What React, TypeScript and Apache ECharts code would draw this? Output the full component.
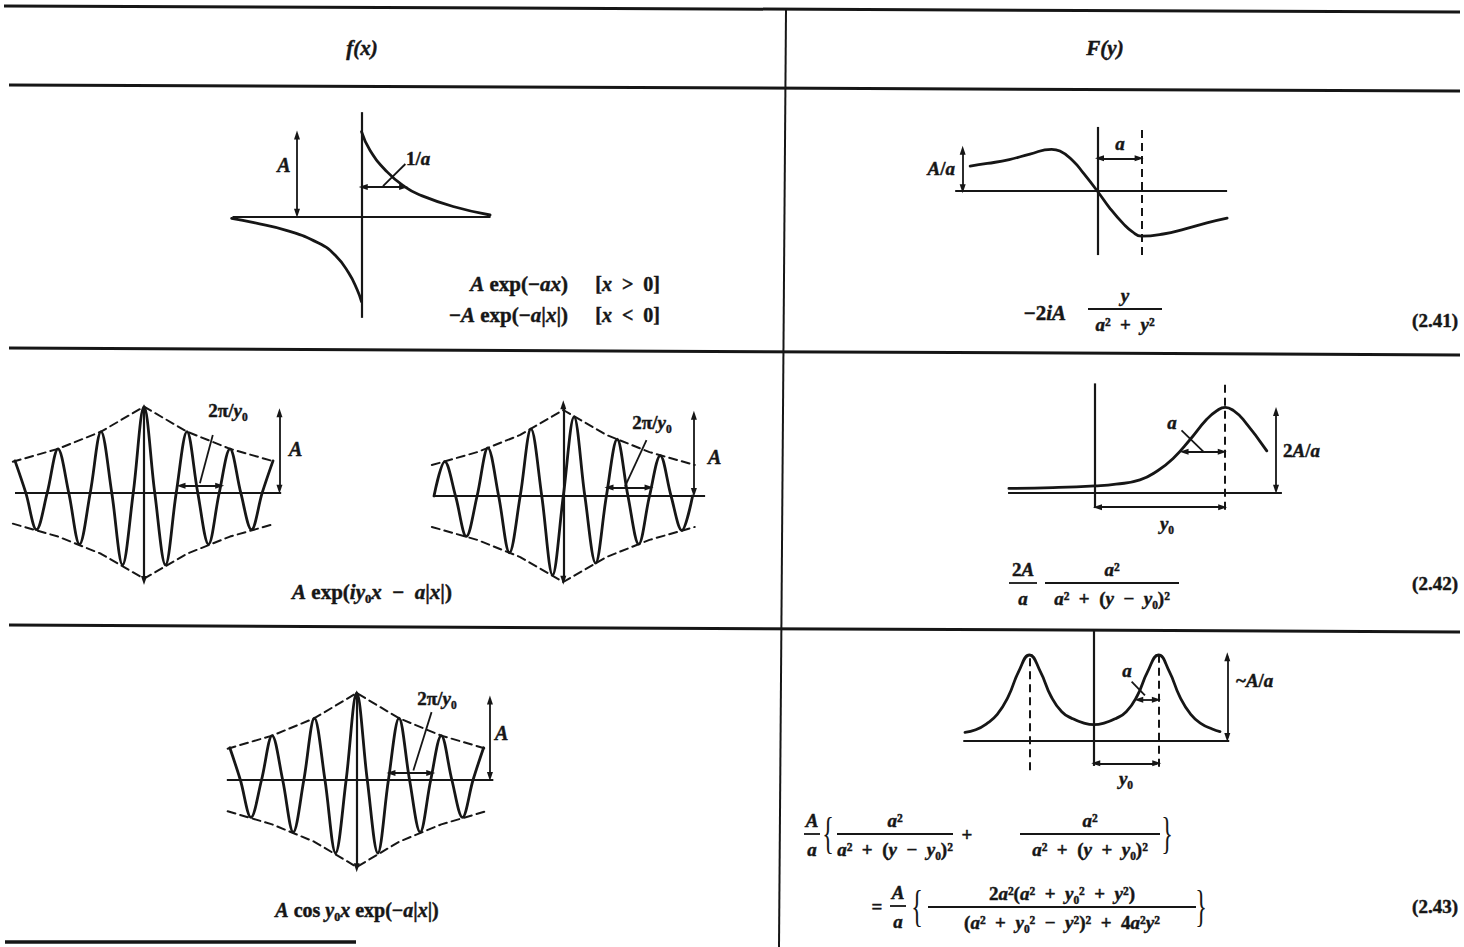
import React, { useEffect, useRef } from "react";
import * as echarts from "echarts";

const W = 1464;
const H = 947;
const INK = "#161616";
const SERIF = '"Liberation Serif", "Times New Roman", "DejaVu Serif", serif';
const SP = "\u2002";

// ---------- data ----------
// A exp(-ax) for x > 0 and -A exp(-a|x|) for x < 0; x in units of 1/a, value in units of A
const decayPosX = [0, 0.2, 0.59, 1.01, 1.36, 2.13, 2.99];
const decayPosF = [1, 0.78, 0.53, 0.35, 0.255, 0.12, 0.02];
const decayNegX = [-3.02, -2.5, -1.75, -1, -0.6, -0.3, -0.1, 0];
const decayNegF = [-0.02, -0.07, -0.16, -0.31, -0.46, -0.66, -0.86, -1];

// -2iA y/(a^2+y^2); y in units of a, value in units of A/a
const oddY = [-2.89, -2.5, -2, -1.53, -1.04, -0.85, -0.55, -0.32, 0, 0.3, 0.6, 0.8, 1, 1.5, 2, 2.49, 2.95];
const oddF = [0.58, 0.64, 0.73, 0.86, 0.97, 0.93, 0.7, 0.42, 0, -0.42, -0.77, -0.95, -1.05, -1.0, -0.88, -0.74, -0.63];

// damped oscillations; x in periods 2π/y0, value in units of A
const waveX = [-3, -2.75, -2.5, -2.25, -2, -1.75, -1.5, -1.25, -1, -0.75, -0.5, -0.25, 0, 0.25, 0.5, 0.75, 1, 1.25, 1.5, 1.75, 2, 2.25, 2.5, 2.75, 3];
const waveCos = [0.37, 0, -0.43, 0, 0.51, 0, -0.6, 0, 0.71, 0, -0.84, 0, 1, 0, -0.84, 0, 0.71, 0, -0.6, 0, 0.51, 0, -0.43, 0, 0.37];
const waveSin = [0, 0.4, 0, -0.47, 0, 0.56, 0, -0.66, 0, 0.78, 0, -0.92, 0, 0.92, 0, -0.78, 0, 0.66, 0, -0.56, 0, 0.47, 0, -0.4, 0];
const envX = [-3.05, -2, -1, 0, 1, 2, 3.05];
const envTop = [0.36, 0.51, 0.71, 1, 0.71, 0.51, 0.36];
const envBottom = [-0.36, -0.51, -0.71, -1, -0.71, -0.51, -0.36];

// (2A/a) a^2/(a^2+(y-y0)^2); y in units of a, value in units of 2A/a
const y0Single = 3.1;
const lorY = [-2.05, -1, 0, 0.5, 1.07, 1.5, 1.86, 2.26, 2.66, 2.9, 3.1, 3.3, 3.54, 4.09];
const lorF = [0.05, 0.06, 0.08, 0.1, 0.15, 0.26, 0.4, 0.62, 0.86, 0.96, 1, 0.96, 0.85, 0.49];

// sum of two Lorentzians at ±y0; y in units of a, value relative to the peaks
const y0Pair = 3;
const pairY = [-6, -5.5, -5, -4.5, -4, -3.5, -3, -2.5, -2, -1.5, -1, -0.5, 0, 0.5, 1, 1.5, 2, 2.5, 3, 3.5, 4, 4.5, 5, 5.5, 5.86];
const pairF = [0.1, 0.13, 0.2, 0.31, 0.51, 0.81, 1, 0.81, 0.52, 0.34, 0.26, 0.21, 0.19, 0.21, 0.26, 0.34, 0.52, 0.81, 1, 0.81, 0.51, 0.31, 0.2, 0.14, 0.11];

const headers = ["f(x)", "F(y)"];
const eqNumbers = ["(2.41)", "(2.42)", "(2.43)"];

// ---------- plot frames: origin (px), px per unit, data extents ----------
type Frame = { ox: number; oy: number; sx: number; sy: number; xr: [number, number]; yr: [number, number] };
const frames: Frame[] = [
  { ox: 361.5, oy: 216.7, sx: 43, sy: 85, xr: [-3.5, 3.5], yr: [-1.4, 1.4] },
  { ox: 1097.3, oy: 191, sx: 44, sy: 43, xr: [-3.5, 3.3], yr: [-1.6, 1.6] },
  { ox: 144, oy: 492.7, sx: 43, sy: 86, xr: [-3.3, 3.5], yr: [-1.2, 1.2] },
  { ox: 563.3, oy: 496, sx: 43.1, sy: 86, xr: [-3.3, 3.5], yr: [-1.2, 1.2] },
  { ox: 1095, oy: 492.7, sx: 42, sy: 85.4, xr: [-2.3, 4.7], yr: [-0.3, 1.4] },
  { ox: 356.7, oy: 780, sx: 42.3, sy: 87, xr: [-3.3, 3.5], yr: [-1.2, 1.2] },
  { ox: 1094, oy: 741, sx: 21.5, sy: 86, xr: [-6.5, 6.6], yr: [-0.45, 1.4] },
];

type Seg = { from: number[]; to: number[]; arrows?: boolean; dashed?: boolean; width?: number };
const AX = 2.2;

const decayMarks: Seg[] = [
  { from: [-3, 0], to: [3, 0], width: AX },
  { from: [0, -1.19], to: [0, 1.23], width: AX },
  { from: [-1.5, 0.04], to: [-1.5, 0.96], arrows: true },
  { from: [0.04, 0.35], to: [0.98, 0.35], arrows: true },
  { from: [0.5, 0.36], to: [1.02, 0.62] },
];
const oddMarks: Seg[] = [
  { from: [-3.23, 0], to: [2.95, 0], width: AX },
  { from: [0, -1.49], to: [0, 1.49], width: AX },
  { from: [1, -1.49], to: [1, 1.49], dashed: true, width: 2 },
  { from: [0.05, 0.76], to: [0.95, 0.76], arrows: true },
  { from: [-3.06, 0.05], to: [-3.06, 0.95], arrows: true },
];
const waveAMarks: Seg[] = [
  { from: [-3.0, 0], to: [3.19, 0], width: AX },
  { from: [0, -1.02], to: [0, 0.98], width: AX, arrows: true },
  { from: [3.15, 0.04], to: [3.15, 0.93], arrows: true },
  { from: [0.86, 0.08], to: [1.76, 0.08], arrows: true },
  { from: [1.3, 0.11], to: [1.6, 0.67] },
];
const waveBMarks: Seg[] = [
  { from: [-3.01, 0], to: [3.29, 0], width: AX },
  { from: [0, -0.98], to: [0, 1.06], width: AX, arrows: true },
  { from: [3.03, 0.04], to: [3.03, 0.94], arrows: true },
  { from: [1.06, 0.1], to: [1.99, 0.1], arrows: true },
  { from: [1.43, 0.11], to: [1.93, 0.65] },
];
const lorMarks: Seg[] = [
  { from: [-2.07, 0], to: [4.45, 0], width: AX },
  { from: [0, -0.18], to: [0, 1.28], width: AX },
  { from: [y0Single, -0.2], to: [y0Single, 1.28], dashed: true, width: 2 },
  { from: [4.31, 0.04], to: [4.31, 0.95], arrows: true },
  { from: [0.06, -0.17], to: [y0Single - 0.06, -0.17], arrows: true },
  { from: [2.12, 0.48], to: [3.03, 0.48], arrows: true },
  { from: [2.06, 0.73], to: [2.58, 0.48] },
];
const waveCMarks: Seg[] = [
  { from: [-3.07, 0], to: [3.23, 0], width: AX },
  { from: [0, -1.01], to: [0, 0.98], width: AX, arrows: true },
  { from: [3.15, 0.04], to: [3.15, 0.92], arrows: true },
  { from: [0.81, 0.08], to: [1.75, 0.08], arrows: true },
  { from: [1.34, 0.11], to: [1.77, 0.78] },
];
const pairMarks: Seg[] = [
  { from: [-6.08, 0], to: [6.29, 0], width: AX },
  { from: [0, -0.29], to: [0, 1.29], width: AX },
  { from: [-y0Pair, -0.34], to: [-y0Pair, 1], dashed: true, width: 2 },
  { from: [y0Pair, -0.3], to: [y0Pair, 1], dashed: true, width: 2 },
  { from: [6.2, 0.04], to: [6.2, 0.98], arrows: true },
  { from: [2.08, 0.48], to: [2.9, 0.48], arrows: true },
  { from: [1.75, 0.69], to: [2.37, 0.53] },
  { from: [0.08, -0.26], to: [y0Pair - 0.08, -0.26], arrows: true },
];

// ---------- builders ----------
const pairs = (xs: number[], ys: number[]) => xs.map((x, k) => [x, ys[k]]);

const markLines = (segs: Seg[]) => ({
  silent: true,
  animation: false,
  symbol: ["none", "none"],
  label: { show: false },
  emphasis: { disabled: true },
  lineStyle: { color: INK, width: 1.8, type: "solid", opacity: 1 },
  data: segs.map((s) => {
    const tip = s.arrows ? "triangle" : "none";
    return [
      {
        coord: s.from,
        symbol: tip,
        symbolSize: [6, 9],
        lineStyle: { color: INK, width: s.width ?? 1.8, type: s.dashed ? [8, 5] : "solid", opacity: 1 },
      },
      { coord: s.to, symbol: tip, symbolSize: [6, 9] },
    ];
  }),
});

function curve(
  frame: number,
  xs: number[],
  ys: number[],
  o: { smooth?: number | boolean; dashed?: boolean; width?: number; marks?: Seg[] } = {}
) {
  return {
    type: "line",
    xAxisIndex: frame,
    yAxisIndex: frame,
    data: pairs(xs, ys),
    symbol: "none",
    showSymbol: false,
    smooth: o.smooth ?? false,
    clip: false,
    silent: true,
    color: INK,
    lineStyle: { color: INK, width: o.width ?? 2.8, type: o.dashed ? [8, 5] : "solid", cap: "round", join: "round" },
    emphasis: { disabled: true },
    ...(o.marks ? { markLine: markLines(o.marks) } : {}),
  };
}

// heavy bold serif, slightly stroked to match the dense print
const font = (size: number, italic: boolean, weight = "bold") => ({
  fontFamily: SERIF,
  fontSize: size,
  fontWeight: weight,
  fontStyle: italic ? "italic" : "normal",
  fill: INK,
  stroke: INK,
  lineWidth: weight === "bold" ? 0.45 : 0,
});

type LabelOpts = { size?: number; align?: "left" | "center" | "right"; italic?: boolean; weight?: string; scaleX?: number; scaleY?: number };
function label(x: number, y: number, text: string, o: LabelOpts = {}) {
  const size = o.size ?? 19;
  const align = o.align ?? "center";
  return {
    type: "text",
    x,
    y,
    silent: true,
    z: 10,
    scaleX: o.scaleX ?? 1,
    scaleY: o.scaleY ?? 1,
    style: {
      text,
      ...font(size, !!o.italic, o.weight),
      align,
      textAlign: align,
      verticalAlign: "middle",
      textVerticalAlign: "middle",
      rich: { i: font(size, true), r: font(size, false) },
    },
  };
}

const rule = (x1: number, y1: number, x2: number, y2: number, w: number) => ({
  type: "line",
  silent: true,
  z: 5,
  shape: { x1, y1, x2, y2 },
  style: { stroke: INK, lineWidth: w },
});

function fraction(cx: number, barY: number, half: number, num: string, den: string, size = 19) {
  return [
    label(cx, barY - 14, num, { size }),
    rule(cx - half, barY, cx + half, barY, 1.8),
    label(cx, barY + 15, den, { size }),
  ];
}

const brace = (x: number, y: number, ch: string) =>
  label(x, y, ch, { size: 44, weight: "normal", scaleX: 0.55 });

function buildOption() {
  const grids = frames.map((f) => ({
    left: f.ox + f.xr[0] * f.sx,
    top: f.oy - f.yr[1] * f.sy,
    width: (f.xr[1] - f.xr[0]) * f.sx,
    height: (f.yr[1] - f.yr[0]) * f.sy,
    show: false,
    containLabel: false,
  }));
  const xAxis = frames.map((f, i) => ({ type: "value", gridIndex: i, min: f.xr[0], max: f.xr[1], show: false }));
  const yAxis = frames.map((f, i) => ({ type: "value", gridIndex: i, min: f.yr[0], max: f.yr[1], show: false }));

  const series = [
    curve(0, decayPosX, decayPosF, { smooth: 0.5, marks: decayMarks }),
    curve(0, decayNegX, decayNegF, { smooth: 0.5 }),
    curve(1, oddY, oddF, { smooth: 0.5, marks: oddMarks }),
    curve(2, waveX, waveCos, { smooth: 0.35, marks: waveAMarks }),
    curve(2, envX, envTop, { dashed: true, width: 2 }),
    curve(2, envX, envBottom, { dashed: true, width: 2 }),
    curve(3, waveX, waveSin, { smooth: 0.35, marks: waveBMarks }),
    curve(3, envX, envTop, { dashed: true, width: 2 }),
    curve(3, envX, envBottom, { dashed: true, width: 2 }),
    curve(4, lorY, lorF, { smooth: 0.5, marks: lorMarks }),
    curve(5, waveX, waveCos, { smooth: 0.35, marks: waveCMarks }),
    curve(5, envX, envTop, { dashed: true, width: 2 }),
    curve(5, envX, envBottom, { dashed: true, width: 2 }),
    curve(6, pairY, pairF, { smooth: 0.5, marks: pairMarks }),
  ];

  const graphics: any[] = [
    // table rules
    rule(4, 6, 1460, 12, 3),
    rule(9, 85, 1460, 91, 3),
    rule(9, 348, 1460, 355, 3),
    rule(9, 625, 1460, 632, 3),
    rule(5, 942, 356, 942, 3.5),
    rule(786, 10, 779, 947, 2),

    // headers
    label(362, 48, headers[0], { size: 21, italic: true }),
    label(1105, 48, headers[1], { size: 21, italic: true }),

    // row 1, left
    label(284, 165, "A", { size: 20, italic: true }),
    label(406, 158, "1/{i|a}", { size: 19, align: "left" }),
    label(568, 284, "{i|A} exp(−{i|ax})", { size: 21, align: "right" }),
    label(660, 284, `[{i|x}${SP}>${SP}0]`, { size: 20, align: "right" }),
    label(568, 315, "−{i|A} exp(−{i|a}|{i|x}|)", { size: 21, align: "right" }),
    label(660, 315, `[{i|x}${SP}<${SP}0]`, { size: 20, align: "right" }),

    // row 1, right
    label(955, 168, "{i|A}/{i|a}", { size: 19, align: "right" }),
    label(1120, 143, "a", { size: 19, italic: true }),
    label(1066, 313, "−2{i|iA}", { size: 21, align: "right" }),
    ...fraction(1125, 309, 37, "{i|y}", `{i|a}²${SP}+${SP}{i|y}²`, 19),
    label(1458, 320, eqNumbers[0], { size: 19, align: "right" }),

    // row 2, left
    label(228, 410, "2π/{i|y}₀", { size: 19 }),
    label(289, 449, "A", { size: 20, italic: true, align: "left" }),
    label(652, 422, "2π/{i|y}₀", { size: 19 }),
    label(708, 457, "A", { size: 20, italic: true, align: "left" }),
    label(372, 592, `{i|A} exp({i|iy}₀{i|x}${SP}−${SP}{i|a}|{i|x}|)`, { size: 21 }),

    // row 2, right
    label(1172, 422, "a", { size: 19, italic: true }),
    label(1283, 450, "2{i|A}/{i|a}", { size: 19, align: "left" }),
    label(1167, 523, "{i|y}₀", { size: 19 }),
    ...fraction(1023, 583, 14, "2{i|A}", "{i|a}", 19),
    ...fraction(1112, 583, 67, "{i|a}²", `{i|a}²${SP}+${SP}({i|y}${SP}−${SP}{i|y}₀)²`, 19),
    label(1458, 583, eqNumbers[1], { size: 19, align: "right" }),

    // row 3, left
    label(437, 698, "2π/{i|y}₀", { size: 19 }),
    label(495, 733, "A", { size: 20, italic: true, align: "left" }),
    label(357, 910, `{i|A} cos {i|y}₀{i|x} exp(−{i|a}|{i|x}|)`, { size: 20 }),

    // row 3, right
    label(1236, 680, "~{i|A}/{i|a}", { size: 19, align: "left" }),
    label(1127, 670, "a", { size: 19, italic: true }),
    label(1126, 778, "{i|y}₀", { size: 19 }),
    ...fraction(812, 834, 8, "{i|A}", "{i|a}", 19),
    brace(828, 833, "{"),
    ...fraction(895, 834, 58, "{i|a}²", `{i|a}²${SP}+${SP}({i|y}${SP}−${SP}{i|y}₀)²`, 19),
    label(967, 834, "+", { size: 19 }),
    ...fraction(1090, 834, 70, "{i|a}²", `{i|a}²${SP}+${SP}({i|y}${SP}+${SP}{i|y}₀)²`, 19),
    brace(1167, 833, "}"),
    label(877, 906, "=", { size: 19 }),
    ...fraction(898, 906, 8, "{i|A}", "{i|a}", 19),
    brace(917, 906, "{"),
    ...fraction(
      1062,
      907,
      134,
      `2{i|a}²({i|a}²${SP}+${SP}{i|y}₀²${SP}+${SP}{i|y}²)`,
      `({i|a}²${SP}+${SP}{i|y}₀²${SP}−${SP}{i|y}²)²${SP}+${SP}4{i|a}²{i|y}²`,
      19
    ),
    brace(1201, 906, "}"),
    label(1458, 906, eqNumbers[2], { size: 19, align: "right" }),
  ];

  return {
    animation: false,
    backgroundColor: "#ffffff",
    grid: grids,
    xAxis,
    yAxis,
    series,
    graphic: { elements: graphics },
  };
}

export default function App() {
  const ref = useRef<HTMLDivElement>(null);
  useEffect(() => {
    const el = ref.current;
    if (!el) return;
    const chart = echarts.init(el, undefined, { renderer: "svg", width: W, height: H });
    chart.setOption(buildOption() as any);
    return () => chart.dispose();
  }, []);
  return (
    <div
      ref={ref}
      style={{ position: "fixed", left: 0, top: 0, width: W, height: H, background: "#ffffff" }}
    />
  );
}
